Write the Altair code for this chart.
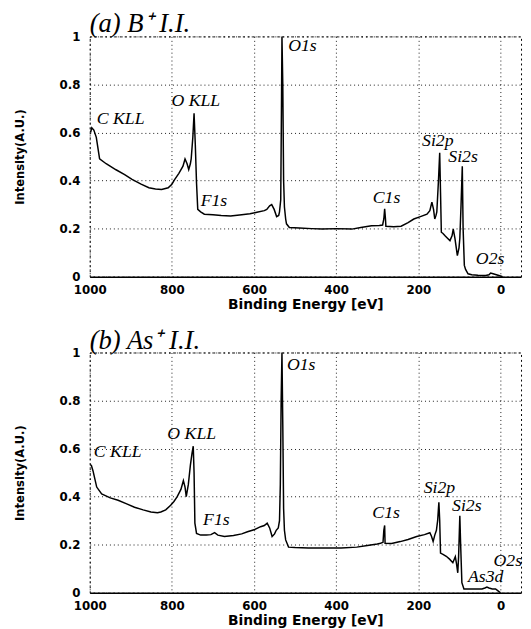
import altair as alt
import pandas as pd

# ---- Panel (a) B+ I.I. spectrum ----
E_a = [998, 995, 990, 984, 976, 960, 936, 915, 897, 875, 856, 840, 825, 809, 800, 793,
       783, 773, 768, 763, 759, 755, 753, 749, 746, 743, 740, 737, 730, 721, 700, 680,
       657, 630, 610, 593, 575, 569, 562, 557, 551, 545, 540, 538, 535, 533, 532, 530,
       528, 526, 523, 521, 514, 490, 460, 434, 400, 362, 340, 314, 295, 287, 284, 282,
       280, 279, 260, 242, 225, 211, 195, 179, 172, 167, 163, 160, 157, 155, 151, 148,
       146, 144, 140, 135, 129, 123, 118, 115, 111, 105, 101, 99, 96, 93, 91, 88,
       85, 79, 70, 55, 36, 28, 24, 18, 10, 4, -2, -5]
I_a = [0.60, 0.62, 0.61, 0.58, 0.49, 0.47, 0.445, 0.425, 0.405, 0.385, 0.37, 0.365, 0.363, 0.37, 0.385, 0.405,
       0.43, 0.46, 0.49, 0.47, 0.446, 0.47, 0.49, 0.58, 0.68, 0.55, 0.39, 0.28, 0.27, 0.26, 0.258, 0.255,
       0.253, 0.258, 0.262, 0.268, 0.275, 0.28, 0.295, 0.30, 0.28, 0.25, 0.255, 0.27, 0.32, 0.75, 1.0, 0.80,
       0.40, 0.29, 0.24, 0.22, 0.205, 0.203, 0.20, 0.198, 0.20, 0.198, 0.205, 0.212, 0.213, 0.215, 0.24, 0.283,
       0.24, 0.21, 0.208, 0.21, 0.225, 0.24, 0.25, 0.26, 0.275, 0.31, 0.28, 0.24, 0.255, 0.27, 0.40, 0.516,
       0.35, 0.185, 0.18, 0.17, 0.16, 0.15, 0.17, 0.198, 0.16, 0.088, 0.12, 0.16, 0.30, 0.46, 0.20, 0.047,
       0.03, 0.012, 0.008, 0.006, 0.005, 0.008, 0.015, 0.012, 0.008, 0.005, 0.002, 0.0]

lab_a = ["C KLL", "O KLL", "F1s", "O1s", "C1s", "Si2p", "Si2s", "O2s"]
lab_a_E = [983, 801, 730, 517, 311, 191, 127, 60]
lab_a_I = [0.655, 0.73, 0.315, 0.96, 0.326, 0.564, 0.496, 0.074]

# ---- Panel (b) As+ I.I. spectrum ----
E_b = [999, 996, 992, 983, 971, 950, 931, 910, 891, 870, 851, 835, 827, 815, 803, 795,
       787, 778, 772, 768, 765, 760, 755, 751, 748, 746, 744, 740, 730, 716, 705, 696,
       688, 672, 650, 630, 616, 600, 584, 575, 568, 562, 556, 550, 546, 541, 538, 536,
       534, 532, 530, 528, 526, 523, 516, 500, 468, 430, 388, 350, 324, 300, 292, 286,
       284, 282, 281, 265, 244, 225, 204, 185, 172, 168, 164, 160, 156, 153, 150, 148,
       146, 140, 132, 124, 116, 110, 107, 104, 102, 99, 97, 94, 89, 80, 60, 45,
       38, 33, 28, 20, 12, 6, 0]
I_b = [0.534, 0.53, 0.507, 0.44, 0.411, 0.395, 0.385, 0.37, 0.356, 0.345, 0.336, 0.333, 0.336, 0.345, 0.364, 0.38,
       0.40, 0.43, 0.467, 0.44, 0.40, 0.45, 0.53, 0.58, 0.61, 0.50, 0.29, 0.247, 0.24, 0.24, 0.242, 0.25,
       0.24, 0.234, 0.238, 0.245, 0.254, 0.262, 0.275, 0.28, 0.29, 0.27, 0.234, 0.245, 0.26, 0.27, 0.30, 0.45,
       0.80, 1.0, 0.70, 0.35, 0.26, 0.22, 0.19, 0.188, 0.186, 0.186, 0.186, 0.19, 0.197, 0.203, 0.206, 0.21,
       0.26, 0.28, 0.206, 0.205, 0.213, 0.222, 0.234, 0.242, 0.25, 0.235, 0.213, 0.24, 0.26, 0.30, 0.377, 0.30,
       0.165, 0.16, 0.152, 0.14, 0.125, 0.15, 0.12, 0.083, 0.15, 0.32, 0.20, 0.042, 0.016, 0.016, 0.016, 0.016,
       0.02, 0.024, 0.02, 0.016, 0.016, 0.008, 0.0]

lab_b = ["C KLL", "O KLL", "F1s", "O1s", "C1s", "Si2p", "Si2s", "O2s", "As3d"]
lab_b_E = [990, 811, 724, 520, 312, 187, 118, 17, 79]
lab_b_I = [0.586, 0.66, 0.303, 0.947, 0.33, 0.434, 0.36, 0.13, 0.066]

x_ticks = [1000, 800, 600, 400, 200, 0]
y_ticks = [0, 0.2, 0.4, 0.6, 0.8, 1]

SERIF = "Liberation Serif, Times New Roman, serif"


def panel(E, I, labs, labE, labI, title, h):
    df = pd.DataFrame({"E": E, "I": I, "o": list(range(len(E)))})
    ldf = pd.DataFrame({"lab": labs, "E": labE, "I": labI})
    x = alt.X("E:Q", scale=alt.Scale(domain=[1000, -50], nice=False, zero=False),
              axis=alt.Axis(values=x_ticks, format="d", title="Binding Energy [eV]",
                            labelPadding=8, titlePadding=2, ticks=False,
                            domain=True, domainColor="black", domainWidth=1.5,
                            labelFlush=False))
    y = alt.Y("I:Q", scale=alt.Scale(domain=[0, 1], nice=False),
              axis=alt.Axis(values=y_ticks, format=".1~f", title="Intensity(A.U.)",
                            labelPadding=10, titlePadding=33, ticks=False, domain=False))
    line = alt.Chart(df).mark_line(color="black", strokeWidth=1.5, interpolate="linear").encode(
        x=x, y=y, order="o:Q")
    txt = alt.Chart(ldf).mark_text(align="left", baseline="middle", font=SERIF,
                                   fontStyle="italic", fontSize=18, color="black").encode(
        x=alt.X("E:Q"), y=alt.Y("I:Q"), text="lab:N")
    return alt.layer(line, txt).properties(
        width=438, height=h,
        title=alt.TitleParams(text=title, font=SERIF, fontStyle="italic", fontSize=27,
                              fontWeight="normal", anchor="start", frame="group",
                              offset=-8, color="black"))


pa = panel(E_a, I_a, lab_a, lab_a_E, lab_a_I, "(a) B⁺ I.I.", 244)
pb = panel(E_b, I_b, lab_b, lab_b_E, lab_b_I, "(b) As⁺ I.I.", 244)

chart = alt.vconcat(pa, pb, spacing=14).properties(
    padding={"left": 5, "top": -3, "right": 0, "bottom": 0},
    background="white"
).configure_view(
    stroke="black", strokeDash=[2, 3], strokeWidth=1
).configure_axis(
    grid=True, gridColor="black", gridDash=[1, 3], gridOpacity=0.9, gridWidth=1,
    labelFont="DejaVu Sans", labelFontWeight="bold", labelFontSize=12, labelColor="black",
    titleFont="DejaVu Sans", titleFontWeight="bold", titleFontSize=14, titleColor="black"
).configure_axisY(
    titleFont="Liberation Sans Narrow, DejaVu Sans Condensed, sans-serif",
    titleFontSize=13
)

chart.save("out.html", embed_options={"renderer": "svg", "actions": False})
